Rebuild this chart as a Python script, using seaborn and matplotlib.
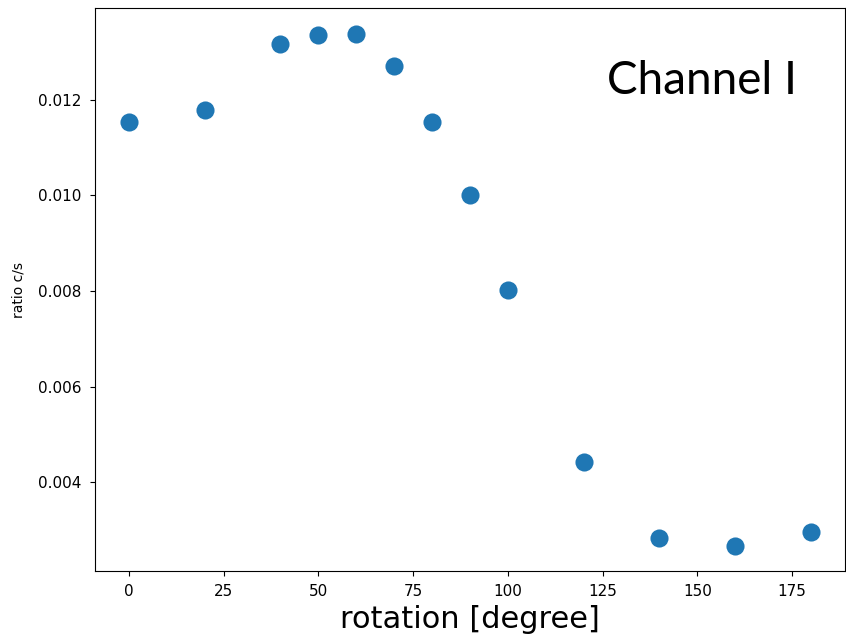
import numpy as np
import pandas as pd
import seaborn as sns
import matplotlib.pyplot as plt

# data
rotation = [0, 20, 40, 50, 60, 70, 80, 90, 100, 120, 140, 160, 180]
ratio = [0.01154, 0.01179, 0.01317, 0.01336, 0.01338, 0.01271, 0.01154,
         0.01001, 0.00803, 0.00442, 0.00284, 0.00268, 0.00297]

df = pd.DataFrame({"rotation": rotation, "ratio": ratio})

fig, ax = plt.subplots(figsize=(8.46, 6.36), dpi=100)
fig.subplots_adjust(left=0.112, right=0.999, top=0.987, bottom=0.102)

sns.scatterplot(data=df, x="rotation", y="ratio", s=170, color="#1f77b4",
                linewidth=0, ax=ax)

ax.set_xlabel("rotation [degree]", fontsize=22, labelpad=4)
ax.set_ylabel("ratio c/s", labelpad=9)
ax.tick_params(labelsize=11, pad=6)

ax.text(0.683, 0.847, "Channel I", transform=ax.transAxes, fontsize=33,
        family=["Lato", "DejaVu Sans"], ha="left", va="baseline")

plt.savefig("out.png", dpi=100)
